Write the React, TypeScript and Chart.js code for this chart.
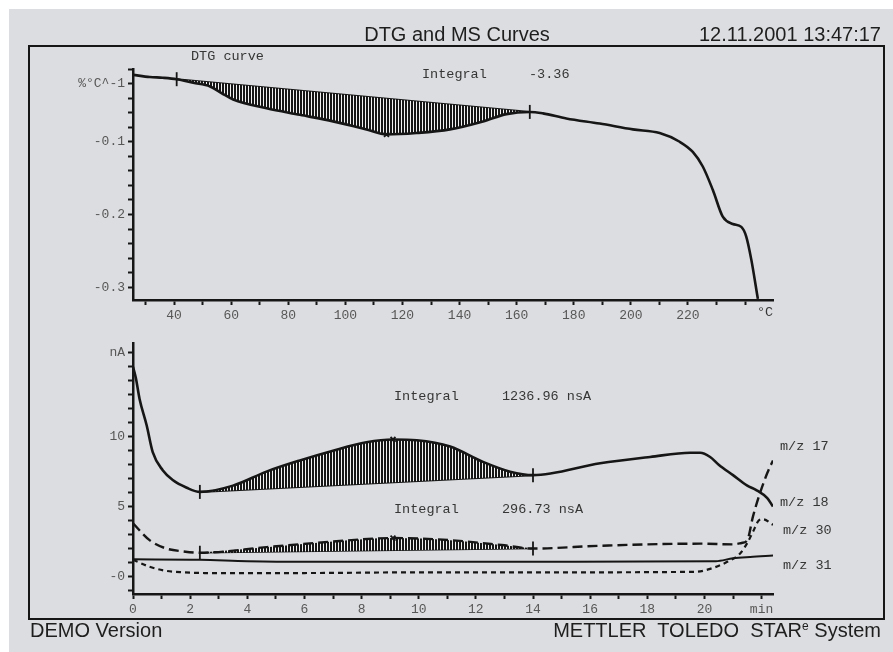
import React, { useEffect, useRef } from 'react';
import { Chart, registerables } from 'chart.js';

Chart.register(...registerables);

// ---------------- DTG curve (top panel), temperature in °C, value in %/°C ----------------
const dtgTemp = [25.6, 31.5, 36.0, 40.9, 46.7, 52.6, 56.6, 60.7, 72.4, 84.1, 95.7, 107.4, 114.4, 124.9, 136.6, 148.2, 156.4, 164.6, 169.2, 177.4, 189.1, 200.7, 210.1, 217.1, 221.7, 225.2, 228.7, 232.2, 235.7, 238.7, 240.4, 242.2, 244.5];
const dtgValue = [-0.008, -0.011, -0.012, -0.014, -0.019, -0.024, -0.033, -0.042, -0.054, -0.063, -0.072, -0.083, -0.090, -0.088, -0.083, -0.072, -0.062, -0.059, -0.061, -0.068, -0.075, -0.083, -0.088, -0.100, -0.114, -0.134, -0.166, -0.203, -0.213, -0.217, -0.230, -0.262, -0.316];
const dtgIntegralRange = [40.9, 164.6];
const dtgPeakTemp = 114.4;

// ---------------- MS curves (bottom panel), time in min, ion current in nA ----------------
const ms18Time = [0, 0.1, 0.23, 0.48, 0.69, 1.04, 1.39, 1.88, 2.34, 3.5, 4.67, 5.84, 7.0, 8.17, 9.1, 9.93, 11.1, 12.25, 13.2, 14.0, 16.35, 18.1, 19.5, 19.85, 20.2, 20.5, 21.0, 21.5, 21.8, 22.2, 22.4];
const ms18Value = [15.0, 14.2, 12.7, 10.8, 8.9, 7.6, 6.9, 6.35, 6.05, 6.5, 7.5, 8.3, 9.0, 9.6, 9.8, 9.75, 9.3, 8.2, 7.5, 7.25, 8.1, 8.55, 8.85, 8.85, 8.55, 8.0, 7.25, 6.5, 6.2, 5.6, 5.0];
const ms17Time = [0, 0.58, 1.17, 1.75, 2.34, 4.67, 7.0, 9.1, 11.1, 12.9, 14.0, 16.35, 19.85, 21.0, 21.3, 21.5, 21.7, 21.95, 22.2, 22.4];
const ms17Value = [3.8, 2.6, 2.0, 1.8, 1.7, 2.1, 2.5, 2.75, 2.6, 2.25, 2.0, 2.2, 2.35, 2.3, 2.4, 2.6, 4.3, 6.0, 7.4, 8.3];
const ms30Time = [0, 0.58, 1.17, 1.75, 2.5, 6, 10, 15, 19.7, 20.2, 20.8, 21.25, 21.5, 21.7, 21.9, 22.05, 22.4];
const ms30Value = [1.2, 0.7, 0.4, 0.3, 0.25, 0.25, 0.3, 0.3, 0.34, 0.55, 1.05, 1.65, 2.4, 3.2, 4.0, 4.1, 3.7];
const ms31Time = [0, 2.34, 4.0, 5.84, 10, 15, 20.4, 21.0, 21.6, 22.4];
const ms31Value = [1.23, 1.2, 1.1, 1.05, 1.05, 1.05, 1.1, 1.3, 1.4, 1.5];
const msIntegralRange = [2.34, 14.0];
const msPeakTime = 9.1;

// ---------------- axes: tick positions and labels ----------------
const dtgXRange = [25.6, 249.8];
const dtgXTicks = [30, 40, 50, 60, 70, 80, 90, 100, 110, 120, 130, 140, 150, 160, 170, 180, 190, 200, 210, 220, 230, 240];
const dtgXLabelValues = [40, 60, 80, 100, 120, 140, 160, 180, 200, 220];
const dtgXLabelTexts = ['40', '60', '80', '100', '120', '140', '160', '180', '200', '220'];
const dtgYRange = [-0.3175, 0];
const dtgYTicks = [-0.3, -0.28, -0.26, -0.24, -0.22, -0.2, -0.18, -0.16, -0.14, -0.12, -0.1, -0.08, -0.06, -0.04, -0.02, 0];
const dtgYLabelValues = [-0.02, -0.1, -0.2, -0.3];
const dtgYLabelTexts = ['%°C^-1', '-0.1', '-0.2', '-0.3'];

const msXRange = [0, 22.4];
const msXTicks = [0, 1, 2, 3, 4, 5, 6, 7, 8, 9, 10, 11, 12, 13, 14, 15, 16, 17, 18, 19, 20, 21, 22];
const msXLabelValues = [0, 2, 4, 6, 8, 10, 12, 14, 16, 18, 20, 22];
const msXLabelTexts = ['0', '2', '4', '6', '8', '10', '12', '14', '16', '18', '20', 'min'];
const msYRange = [-1.25, 16.7];
const msYTicks = [-1, 0, 1, 2, 3, 4, 5, 6, 7, 8, 9, 10, 11, 12, 13, 14, 15, 16];
const msYLabelValues = [0, 5, 10, 16];
const msYLabelTexts = ['-0', '5', '10', 'nA'];

const INK = '#161616';
const MONO = "'Liberation Mono', 'DejaVu Sans Mono', monospace";
const SANS = "'Liberation Sans', Arial, sans-serif";

const pts = (xs: number[], ys: number[]) => xs.map((x, i) => ({ x, y: ys[i] }));
const valueAt = (xs: number[], ys: number[], x: number) => ys[xs.findIndex((v) => Math.abs(v - x) < 1e-9)];
const segment = (xs: number[], ys: number[], r: number[]) =>
  pts(xs, ys).filter((p) => p.x >= r[0] - 1e-9 && p.x <= r[1] + 1e-9);

function hatchPattern(ctx: CanvasRenderingContext2D) {
  const c = document.createElement('canvas');
  c.width = 3;
  c.height = 4;
  const g = c.getContext('2d')!;
  g.fillStyle = '#f2f2f2';
  g.fillRect(0, 0, 3, 4);
  g.fillStyle = INK;
  g.fillRect(0, 0, 2, 4);
  return ctx.createPattern(c, 'repeat')!;
}

function axis(range: number[], ticks: number[], labelAt: number[], labelText: string[], fit: (s: any) => void) {
  return {
    type: 'linear',
    bounds: 'data',
    min: range[0],
    max: range[1],
    border: { display: true, color: INK, width: 2.5 },
    grid: {
      display: true,
      drawOnChartArea: false,
      drawTicks: true,
      tickLength: 5,
      tickWidth: 2,
      tickColor: INK,
      color: INK,
    },
    ticks: {
      autoSkip: false,
      maxRotation: 0,
      padding: 3,
      color: '#575757',
      font: { family: MONO, size: 13 },
      callback: (v: number) => {
        const i = labelAt.findIndex((l) => Math.abs(l - v) < 1e-6);
        return i >= 0 ? labelText[i] : '';
      },
    },
    afterBuildTicks: (s: any) => {
      s.ticks = ticks.map((value) => ({ value }));
    },
    afterFit: fit,
  };
}

const lineDs = (data: any[], width: number, dash: number[] = [], extra: any = {}) => ({
  data,
  borderColor: INK,
  borderWidth: width,
  borderDash: dash,
  pointRadius: 0,
  fill: false,
  cubicInterpolationMode: 'monotone',
  ...extra,
});

const limitMarkers = (data: any[]) => ({
  data,
  showLine: false,
  pointStyle: 'line',
  pointRotation: 90,
  pointRadius: 7,
  pointBorderWidth: 1.8,
  pointBorderColor: INK,
  pointBackgroundColor: INK,
  order: -2,
});

const peakMarker = (data: any[]) => ({
  data,
  showLine: false,
  pointStyle: 'crossRot',
  pointRadius: 3.5,
  pointBorderWidth: 1.8,
  pointBorderColor: INK,
  order: -2,
});

const baseOptions = (padding: any, x: any, y: any) => ({
  responsive: false,
  animation: false,
  devicePixelRatio: 1,
  events: [],
  layout: { padding },
  plugins: { legend: { display: false }, tooltip: { enabled: false } },
  scales: { x, y },
});

export default function App() {
  const topRef = useRef<HTMLCanvasElement>(null);
  const botRef = useRef<HTMLCanvasElement>(null);

  useEffect(() => {
    const tc = topRef.current!;
    const bc = botRef.current!;
    const tPattern = hatchPattern(tc.getContext('2d')!);
    const bPattern = hatchPattern(bc.getContext('2d')!);

    const dtgLimitPts = dtgIntegralRange.map((x) => ({ x, y: valueAt(dtgTemp, dtgValue, x) }));
    const top = new Chart(tc, {
      type: 'line',
      data: {
        datasets: [
          limitMarkers(dtgLimitPts),
          peakMarker([{ x: dtgPeakTemp, y: valueAt(dtgTemp, dtgValue, dtgPeakTemp) }]),
          lineDs(pts(dtgTemp, dtgValue), 2.6),
          lineDs(segment(dtgTemp, dtgValue, dtgIntegralRange), 1, [], {
            borderColor: 'rgba(0,0,0,0)',
            fill: '+1',
            backgroundColor: tPattern,
          }),
          lineDs(dtgLimitPts, 2, [], { cubicInterpolationMode: 'default', tension: 0 }),
        ],
      },
      options: baseOptions(
        { left: 0, right: 120, top: 69, bottom: 10 },
        axis(dtgXRange, dtgXTicks, dtgXLabelValues, dtgXLabelTexts, (s: any) => { s.height = 30; }),
        axis(dtgYRange, dtgYTicks, dtgYLabelValues, dtgYLabelTexts, (s: any) => { s.width = 133; })
      ) as any,
    } as any);

    const m18Limits = msIntegralRange.map((x) => ({ x, y: valueAt(ms18Time, ms18Value, x) }));
    const m17Limits = msIntegralRange.map((x) => ({ x, y: valueAt(ms17Time, ms17Value, x) }));
    const bot = new Chart(bc, {
      type: 'line',
      data: {
        datasets: [
          limitMarkers([...m18Limits, ...m17Limits]),
          peakMarker([
            { x: msPeakTime, y: valueAt(ms18Time, ms18Value, msPeakTime) },
            { x: msPeakTime, y: valueAt(ms17Time, ms17Value, msPeakTime) },
          ]),
          lineDs(pts(ms18Time, ms18Value), 2.6),
          lineDs(segment(ms18Time, ms18Value, msIntegralRange), 1, [], {
            borderColor: 'rgba(0,0,0,0)',
            fill: '+1',
            backgroundColor: bPattern,
          }),
          lineDs(m18Limits, 2, [], { cubicInterpolationMode: 'default', tension: 0 }),
          lineDs(pts(ms17Time, ms17Value), 2.4, [10, 5]),
          lineDs(segment(ms17Time, ms17Value, msIntegralRange), 1, [], {
            borderColor: 'rgba(0,0,0,0)',
            fill: '+1',
            backgroundColor: bPattern,
          }),
          lineDs(m17Limits, 1.6, [], { cubicInterpolationMode: 'default', tension: 0 }),
          lineDs(pts(ms30Time, ms30Value), 2.2, [5, 4]),
          lineDs(pts(ms31Time, ms31Value), 2),
        ],
      },
      options: baseOptions(
        { left: 0, right: 120, top: 13, bottom: 28 },
        axis(msXRange, msXTicks, msXLabelValues, msXLabelTexts, (s: any) => { s.height = 30; }),
        axis(msYRange, msYTicks, msYLabelValues, msYLabelTexts, (s: any) => { s.width = 133; })
      ) as any,
    } as any);

    return () => {
      top.destroy();
      bot.destroy();
    };
  }, []);

  const mono = (left: number, cy: number, text: string) => (
    <div
      style={{
        position: 'absolute',
        left,
        top: cy - 8,
        font: `13.5px ${MONO}`,
        lineHeight: '16px',
        color: '#363636',
        whiteSpace: 'pre',
      }}
    >
      {text}
    </div>
  );

  const sans: React.CSSProperties = {
    position: 'absolute',
    font: `20px ${SANS}`,
    lineHeight: '20px',
    color: '#1e1e1e',
    whiteSpace: 'pre',
  };

  return (
    <div style={{ position: 'absolute', left: 0, top: 0, width: 893, height: 652, background: '#fff', overflow: 'hidden' }}>
      <div style={{ position: 'absolute', left: 9, top: 9, right: 0, bottom: 0, background: '#dcdde0' }} />
      <div
        style={{
          position: 'absolute',
          left: 28,
          top: 45,
          width: 857,
          height: 575,
          border: `2px solid ${INK}`,
          boxSizing: 'border-box',
        }}
      />
      <canvas ref={topRef} width={893} height={340} style={{ position: 'absolute', left: 0, top: 0, width: 893, height: 340 }} />
      <canvas ref={botRef} width={893} height={322} style={{ position: 'absolute', left: 0, top: 330, width: 893, height: 322 }} />

      <div style={{ ...sans, left: 457, top: 24, transform: 'translateX(-50%)' }}>DTG and MS Curves</div>
      <div style={{ ...sans, right: 12, top: 24 }}>12.11.2001 13:47:17</div>
      <div style={{ ...sans, left: 30, top: 620 }}>DEMO Version</div>
      <div style={{ ...sans, right: 12, top: 620 }}>
        {'METTLER  TOLEDO  STAR'}
        <span style={{ fontSize: 12, position: 'relative', top: -7, lineHeight: 0 }}>e</span>
        {' System'}
      </div>

      {mono(191, 57, 'DTG curve')}
      {mono(422, 75, 'Integral')}
      {mono(529, 75, '-3.36')}
      {mono(757, 313, '°C')}
      {mono(394, 397, 'Integral')}
      {mono(502, 397, '1236.96 nsA')}
      {mono(394, 510, 'Integral')}
      {mono(502, 510, '296.73 nsA')}
      {mono(780, 447, 'm/z 17')}
      {mono(780, 503, 'm/z 18')}
      {mono(783, 531, 'm/z 30')}
      {mono(783, 566, 'm/z 31')}
    </div>
  );
}
